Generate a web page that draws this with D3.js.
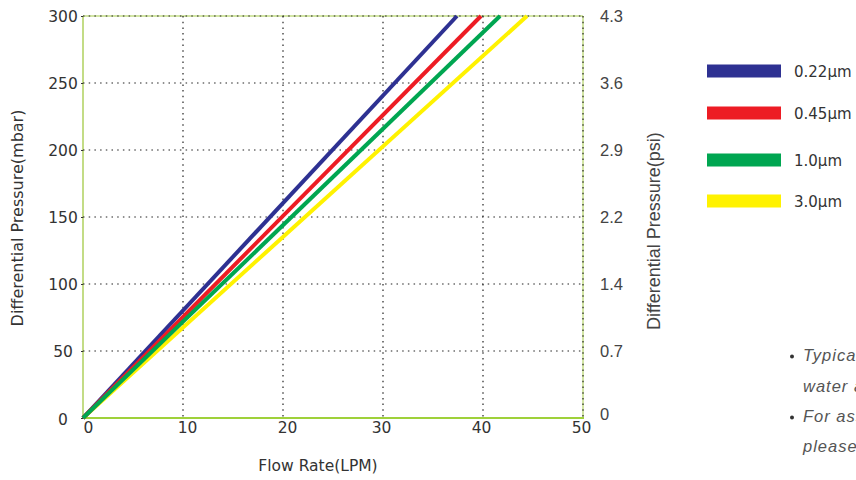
<!DOCTYPE html>
<html><head><meta charset="utf-8">
<script src="https://cdn.jsdelivr.net/npm/d3@7/dist/d3.min.js"></script>
<style>body{margin:0;background:#fff;}svg{display:block;}</style>
</head><body>
<svg id="c" width="856" height="480"></svg>
<script>
const seriesNames = ["0.22μm", "0.45μm", "1.0μm", "3.0μm"];
const seriesColors = ["#2e3192", "#ed1c24", "#00a651", "#fff200"];
// flow rate (LPM) at 0 and 300 mbar for each series
const flow022 = [0, 37.4];
const flow045 = [0, 39.8];
const flow10 = [0, 41.7];
const flow30 = [0, 44.4];
const pressure = [0, 300];
const xTicks = [0, 10, 20, 30, 40, 50];
const yTicks = [0, 50, 100, 150, 200, 250, 300];
const psiTicks = ["0", "0.7", "1.4", "2.2", "2.9", "3.6", "4.3"];
const notes = ["Typical flow rates for", "water at 20°C", "For assistance,", "please contact us"];

const svg = d3.select("#c");
const L = 83, R = 583, T = 16, B = 418;
const x = d3.scaleLinear().domain([0, 50]).range([L, R]);
const y = d3.scaleLinear().domain([0, 300]).range([B, T]);
const yr = d3.scaleLinear().domain([0, 6]).range([B, T]);

// frame
svg.append("line").attr("x1", L).attr("x2", L).attr("y1", T).attr("y2", B).attr("stroke", "#c3dc86").attr("stroke-width", 2);
svg.append("line").attr("x1", L).attr("x2", R).attr("y1", T).attr("y2", T).attr("stroke", "#c3dc86").attr("stroke-width", 1.5);
svg.append("line").attr("x1", R).attr("x2", R).attr("y1", T).attr("y2", B).attr("stroke", "#c3dc86").attr("stroke-width", 1.5);

// grid
const g = svg.append("g");
xTicks.filter(d => d > 0).forEach(d => {
  g.append("line").attr("x1", x(d)).attr("x2", x(d)).attr("y1", T).attr("y2", B)
    .attr("stroke", "#222").attr("stroke-width", 1.2).attr("stroke-dasharray", "1.5,4.2");
});
yTicks.filter(d => d > 0).forEach(d => {
  g.append("line").attr("x1", L).attr("x2", R).attr("y1", y(d)).attr("y2", y(d))
    .attr("stroke", "#222").attr("stroke-width", 1.2).attr("stroke-dasharray", "1.5,4.2");
});
svg.append("line").attr("x1", L).attr("x2", R + 1).attr("y1", B).attr("y2", B).attr("stroke", "#9fd13a").attr("stroke-width", 2);

// left axis
const yAxis = d3.axisLeft(y).tickValues(yTicks).tickSize(2).tickPadding(0).tickFormat(d3.format("d"));
const ya = svg.append("g").attr("transform", `translate(${L},0)`).call(yAxis);
ya.select(".domain").remove();
ya.selectAll(".tick line").attr("stroke", "#333");
ya.selectAll(".tick text").attr("x", -20).attr("text-anchor", "middle")
  .attr("font-family", "DejaVu Sans").attr("font-size", 15.5).attr("fill", "#333")
  .attr("dy", (d) => d === 0 ? "0.45em" : "0.36em");

// bottom axis
const xAxis = d3.axisBottom(x).tickValues(xTicks).tickSize(0).tickPadding(4);
const xa = svg.append("g").attr("transform", `translate(0,${B})`).call(xAxis);
xa.select(".domain").remove();
xa.selectAll(".tick text").attr("font-family", "DejaVu Sans").attr("font-size", 15.5).attr("fill", "#333")
  .attr("dx", d => d === 0 ? 5 : (d === 50 ? -2 : (d < 30 ? 4 : -2)));

// right axis
const rAxis = d3.axisRight(yr).tickValues(d3.range(psiTicks.length)).tickFormat(i => psiTicks[i]).tickSize(0).tickPadding(17);
const ra = svg.append("g").attr("transform", `translate(${R},0)`).call(rAxis);
ra.select(".domain").remove();
ra.selectAll(".tick text").attr("font-family", "Liberation Sans").attr("font-size", 16.5).attr("fill", "#444")
  .attr("dy", (d) => d === 0 ? "0.1em" : "0.32em");

// titles
svg.append("text").attr("x", 318).attr("y", 471).attr("text-anchor", "middle")
  .attr("font-family", "DejaVu Sans").attr("font-size", 15.5).attr("fill", "#333").text("Flow Rate(LPM)");
svg.append("text").attr("transform", "translate(23,218) rotate(-90)").attr("text-anchor", "middle")
  .attr("font-family", "DejaVu Sans").attr("font-size", 16).attr("fill", "#333").text("Differential Pressure(mbar)");
svg.append("text").attr("transform", "translate(660,231) rotate(-90)").attr("text-anchor", "middle")
  .attr("font-family", "Liberation Sans").attr("font-size", 18).attr("fill", "#444").text("Differential Pressure(psi)");

// lines
const flows = [flow022, flow045, flow10, flow30];
const line = d3.line().x(d => x(d[0])).y(d => y(d[1]));
const order = [3, 0, 1, 2];
order.forEach(i => {
  const pts = flows[i].map((f, k) => [f, pressure[k]]);
  svg.append("path").attr("d", line(pts)).attr("fill", "none")
    .attr("stroke", seriesColors[i]).attr("stroke-width", 4);
});

// legend
const legY = [71, 113, 160, 201];
seriesNames.forEach((n, i) => {
  svg.append("rect").attr("x", 707).attr("y", legY[i] - 6.5).attr("width", 74).attr("height", 13).attr("fill", seriesColors[i]);
  svg.append("text").attr("x", 794).attr("y", legY[i] + 5.5).attr("font-family", "DejaVu Sans").attr("font-size", 15)
    .attr("fill", "#333").text(n);
});

// notes
const noteY = [361, 392, 422, 452];
notes.forEach((t, i) => {
  if (i % 2 === 0) svg.append("circle").attr("cx", 792).attr("cy", noteY[i] - 4.5).attr("r", 2).attr("fill", "#333");
  svg.append("text").attr("x", 803).attr("y", noteY[i]).attr("font-family", "Liberation Sans").attr("font-style", "italic")
    .attr("font-size", 16.5).attr("fill", "#555").attr("letter-spacing", 1.0).text(t);
});
</script>
</body></html>
